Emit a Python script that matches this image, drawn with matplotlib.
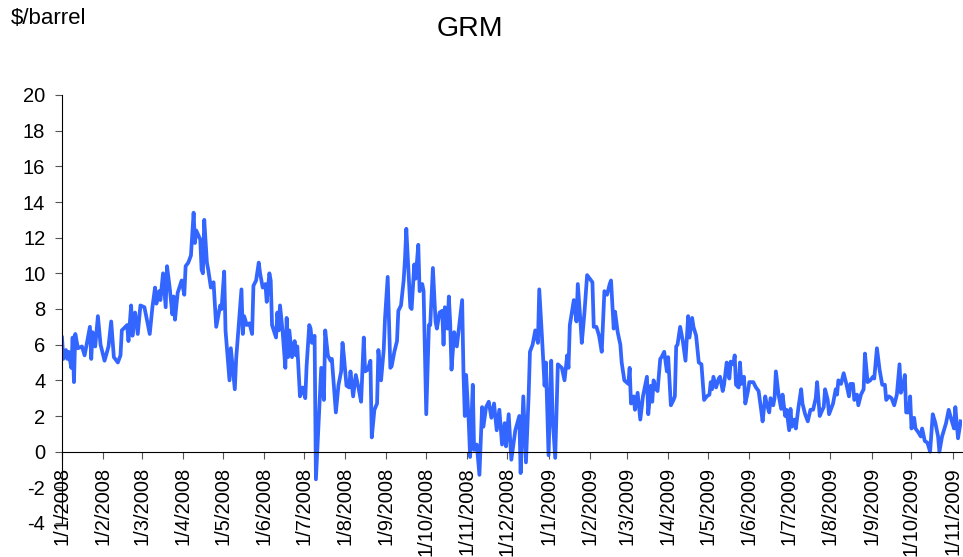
import numpy as np
import matplotlib
matplotlib.use('Agg')
import matplotlib.pyplot as plt

plt.rcParams['font.family'] = ['Liberation Sans', 'DejaVu Sans']
plt.rcParams['axes.unicode_minus'] = False

# days counted from 1 Jan 2008, GRM in $/barrel
days = [0, 1, 3, 4, 5, 7, 8, 9, 10, 12, 15, 17, 21, 22, 23, 25, 27, 29, 32, 35,
        37, 39, 42, 44, 45, 49, 50, 52, 53, 55, 57, 59, 62, 66, 68, 70, 71, 73, 74, 76,
        78, 79, 81, 83, 84, 85, 87, 90, 92, 93, 95, 97, 99, 100, 101, 104, 105, 106, 107, 109,
        110, 112, 114, 116, 119, 120, 122, 123, 126, 127, 130, 131, 135, 136, 137, 139, 141, 143, 144, 146,
        148, 149, 151, 153, 154, 156, 157, 158, 161, 162, 163, 164, 166, 168, 169, 170, 171, 173, 175, 176,
        177, 179, 181, 183, 184, 186, 187, 188, 190, 191, 195, 197, 198, 200, 202, 203, 206, 208, 210, 211,
        212, 214, 216, 217, 219, 221, 223, 225, 227, 228, 230, 232, 233, 235, 237, 238, 240, 242, 243, 245,
        247, 248, 250, 252, 253, 255, 257, 258, 259, 262, 263, 265, 266, 268, 269, 271, 272, 274, 276, 277,
        279, 281, 282, 284, 286, 287, 288, 290, 291, 292, 293, 295, 297, 299, 301, 302, 303, 304, 306, 307,
        309, 310, 312, 314, 316, 317, 319, 321, 323, 325, 327, 329, 331, 333, 334, 336, 338, 341, 344, 345,
        347, 349, 351, 352, 354, 356, 358, 359, 361, 363, 364, 366, 368, 369, 371, 373, 376, 378, 380, 381,
        382, 385, 387, 388, 390, 391, 393, 395, 397, 399, 400, 402, 404, 406, 408, 410, 412, 413, 415, 416,
        418, 420, 421, 423, 426, 427, 428, 430, 431, 433, 435, 437, 440, 441, 443, 444, 445, 447, 448, 450,
        451, 453, 455, 456, 458, 460, 461, 462, 463, 465, 467, 469, 471, 472, 474, 475, 477, 479, 481, 483,
        485, 487, 488, 489, 490, 492, 494, 495, 497, 498, 500, 501, 502, 503, 505, 506, 507, 509, 510, 511,
        513, 514, 516, 517, 520, 522, 524, 526, 527, 529, 530, 532, 533, 535, 536, 537, 539, 541, 542, 544,
        545, 547, 548, 549, 551, 552, 554, 556, 557, 559, 561, 563, 565, 567, 568, 570, 572, 573, 574, 576,
        577, 580, 582, 583, 584, 586, 588, 590, 592, 593, 595, 596, 598, 599, 601, 603, 604, 606, 608, 610,
        611, 613, 615, 617, 619, 620, 622, 624, 626, 628, 630, 631, 633, 634, 635, 637, 638, 639, 641, 642,
        644, 646, 647, 649, 651, 653, 655, 657, 659, 660, 662, 665, 667, 669, 671, 672, 673, 674, 676]

grm = [6.4, 5.2, 5.7, 5.2, 5.6, 4.7, 6.4, 3.9, 6.6, 5.8, 5.9, 5.4, 7.0, 5.2, 6.7, 5.9, 7.6, 6.0, 5.1, 5.9,
       7.3, 5.3, 5.0, 5.4, 6.8, 7.1, 6.2, 8.2, 6.5, 7.8, 6.6, 8.2, 8.1, 6.6, 8.1, 9.2, 8.3, 9.0, 8.5, 10.0,
       8.1, 10.4, 9.2, 7.7, 8.7, 7.4, 8.9, 9.6, 8.8, 10.4, 10.6, 11.0, 13.4, 11.7, 12.4, 11.9, 10.2, 10.0, 13.0, 10.6,
       10.2, 9.2, 9.5, 7.0, 8.2, 8.0, 10.1, 6.8, 4.0, 5.8, 3.5, 5.2, 9.1, 6.6, 7.6, 7.1, 7.2, 6.6, 9.3, 9.6,
       10.6, 10.0, 9.2, 9.4, 8.4, 10.0, 9.6, 7.1, 6.4, 7.8, 6.8, 8.2, 6.7, 4.7, 7.5, 5.3, 6.8, 5.3, 6.2, 5.4,
       5.9, 3.1, 3.6, 3.0, 4.8, 7.1, 6.9, 6.1, 6.5, -1.55, 4.7, 2.9, 6.8, 5.4, 5.1, 5.2, 2.2, 3.75, 4.5, 6.1,
       5.4, 3.7, 3.6, 4.5, 3.1, 4.3, 3.6, 2.8, 6.4, 4.5, 4.6, 5.1, 0.8, 2.35, 2.7, 5.7, 4.0, 5.7, 7.5, 9.8,
       4.7, 4.8, 5.6, 6.2, 7.9, 8.2, 9.6, 10.8, 12.5, 8.1, 8.0, 10.5, 9.7, 11.6, 9.0, 9.4, 9.0, 2.1, 7.1, 7.1,
       10.3, 7.3, 6.9, 7.8, 7.9, 6.0, 8.1, 6.9, 8.7, 7.2, 4.6, 6.7, 5.9, 7.2, 8.5, 4.4, 2.0, 4.3, 1.6, -0.3,
       3.75, 0.1, 0.4, -1.3, 2.5, 1.4, 2.5, 2.8, 1.9, 2.7, 1.2, 2.35, 0.4, 1.6, 0.3, 2.1, -0.45, 1.2, 2.0, -1.2,
       3.1, -0.6, 3.1, 5.6, 6.0, 6.8, 6.1, 9.1, 6.5, 3.7, 5.0, -0.2, 5.1, 2.0, -0.35, 4.9, 4.7, 4.0, 5.4, 4.7,
       7.1, 8.5, 7.3, 9.4, 7.3, 6.1, 7.8, 9.9, 9.7, 9.5, 7.0, 7.0, 6.5, 5.6, 9.0, 8.8, 9.4, 9.6, 6.9, 7.85,
       6.7, 6.0, 5.0, 4.0, 3.8, 4.7, 2.7, 3.1, 2.35, 3.3, 1.8, 3.1, 4.2, 2.1, 3.7, 2.8, 4.0, 3.5, 3.4, 5.2,
       5.3, 5.6, 4.5, 5.3, 2.6, 2.9, 3.1, 5.9, 6.0, 7.0, 6.2, 5.1, 7.6, 6.4, 7.5, 7.0, 6.5, 5.0, 4.9, 2.9,
       3.1, 3.2, 3.9, 3.5, 4.2, 3.6, 4.1, 4.2, 3.4, 3.75, 5.0, 4.6, 4.1, 5.05, 4.9, 5.4, 3.75, 3.6, 5.0, 3.8,
       4.2, 2.7, 3.4, 3.9, 3.9, 3.6, 3.4, 2.3, 1.7, 3.1, 2.7, 2.2, 3.0, 2.6, 3.0, 4.5, 3.2, 2.4, 3.2, 2.0,
       2.35, 1.2, 2.4, 1.4, 1.8, 1.3, 2.5, 3.5, 2.7, 2.1, 1.7, 2.35, 2.35, 3.0, 3.9, 2.0, 2.35, 2.5, 3.5, 2.9,
       2.1, 2.7, 3.5, 3.2, 4.0, 3.8, 4.4, 3.8, 3.1, 3.8, 3.8, 2.9, 3.2, 2.6, 3.2, 3.5, 5.5, 3.9, 4.0, 4.2,
       4.1, 5.8, 4.6, 3.75, 3.75, 2.9, 3.1, 3.0, 2.6, 3.2, 4.9, 3.3, 3.8, 4.3, 2.2, 2.2, 3.1, 1.3, 1.9, 1.3,
       1.1, 0.85, 1.3, 0.6, 0.5, 0.0, 2.1, 1.6, 0.85, 0.0, 0.85, 1.6, 2.35, 1.8, 1.3, 2.5, 1.6, 0.75, 1.7]

months = [(2008, m) for m in range(1, 13)] + [(2009, m) for m in range(1, 12)]
tick_labels = ['1/%d/%d' % (m, y) for y, m in months]

start = np.datetime64('2008-01-01')
dates = start + np.array(days, dtype='timedelta64[D]')
tick_dates = [np.datetime64('%d-%02d-01' % (y, m)) for y, m in months]

fig = plt.figure(figsize=(9.63, 5.57), dpi=100)
ax = fig.add_axes([62/963, 1-523/557, 900/963, 428/557])

ax.spines['top'].set_visible(False)
ax.spines['right'].set_visible(False)
ax.spines['bottom'].set_position(('data', 0))

ax.plot(dates, grm, color='#3366FF', linewidth=2.7)

ax.set_ylim(-4, 20)
ax.set_yticks(range(-4, 21, 2))
ax.set_xlim(start, start + np.timedelta64(677, 'D'))
ax.set_xticks(tick_dates)
ax.set_xticklabels(tick_labels)

ax.tick_params(axis='both', direction='out', length=5, color='#555555', labelsize=14.5)
ax.tick_params(axis='x', pad=6, labelrotation=90)
ax.tick_params(axis='y', pad=7)
for lab in ax.get_xticklabels():
    lab.set_va('top')
    lab.set_ha('center')

fig.text(0.488, 0.948, 'GRM', ha='center', va='center', fontsize=20.5)
fig.text(0.011, 0.967, r'\$/barrel', ha='left', va='center', fontsize=16)

fig.savefig('out.png', dpi=100)
